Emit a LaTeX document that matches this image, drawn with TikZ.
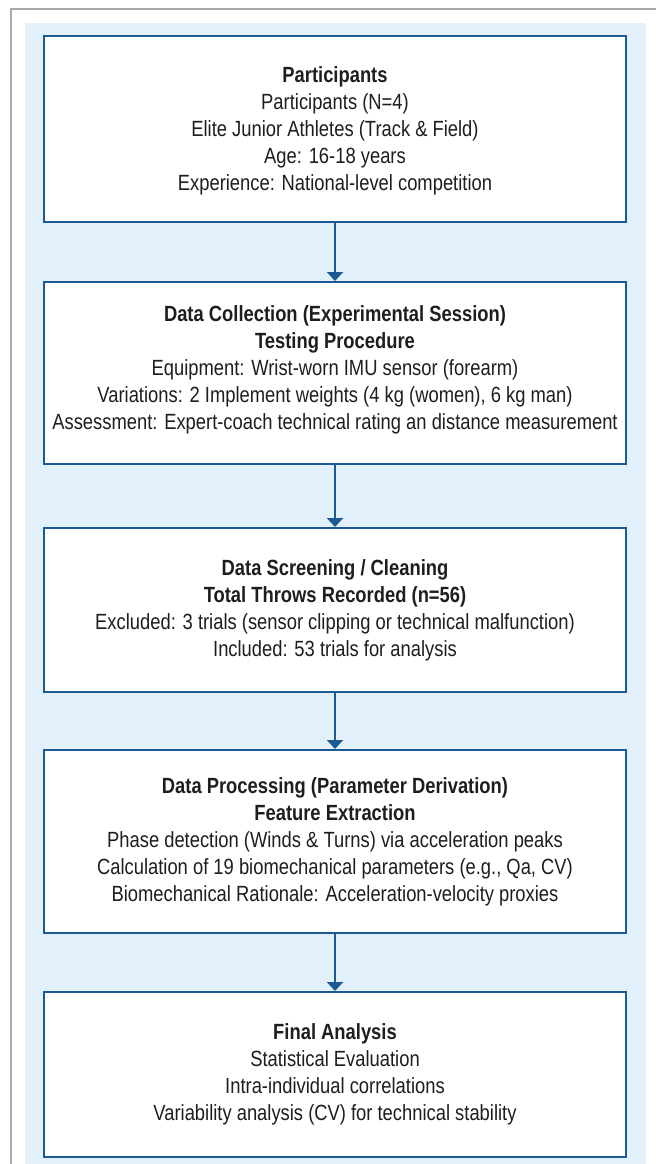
\documentclass[tikz,border=0pt]{standalone}
\usepackage{fontspec}
\setmainfont[FakeStretch=0.835]{Liberation Sans}
\usetikzlibrary{arrows.meta}
\definecolor{boxblue}{RGB}{28,90,150}
\definecolor{bgblue}{RGB}{225,240,250}
\definecolor{framegray}{RGB}{170,170,170}
\definecolor{txt}{RGB}{30,30,30}
\tikzset{
  stagebox/.style={draw=boxblue, line width=2pt, fill=white, minimum width=582pt,
    align=center, text=txt, font=\fontsize{22}{27}\selectfont, inner sep=0pt},
  flowarrow/.style={draw=boxblue, line width=2pt, -{Triangle[width=16pt,length=9pt]}}
}
\begin{document}
\begin{tikzpicture}[x=1pt,y=-1pt]
\useasboundingbox (0,0) rectangle (656,1164);
\fill[bgblue] (25,23) rectangle (646,1164);
\draw[framegray, line width=2pt] (11,1164) -- (11,9) -- (656,9);
\node[stagebox, minimum height=186pt] (b1) at (335,129) {};
\node[stagebox, minimum height=182pt] (b2) at (335,373) {};
\node[stagebox, minimum height=164pt] (b3) at (335,610) {};
\node[stagebox, minimum height=183pt] (b4) at (335,841.5) {};
\node[stagebox, minimum height=165pt] (b5) at (335,1074.5) {};
\node[stagebox, draw=none, fill=none, minimum width=0pt, anchor=center] (t1) at ([yshift=-2pt]b1.center) {\textbf{Participants}\\Participants (N=4)\\Elite Junior Athletes (Track \& Field)\\Age: 16-18 years\\Experience: National-level competition};
\node[stagebox, draw=none, fill=none, minimum width=0pt, anchor=center] (t2) at ([yshift=3pt]b2.center) {\textbf{Data Collection (Experimental Session)}\\\textbf{Testing Procedure}\\Equipment: Wrist-worn IMU sensor (forearm)\\Variations: 2 Implement weights (4 kg (women), 6 kg man)\\Assessment: Expert-coach technical rating an distance measurement};
\node[stagebox, draw=none, fill=none, minimum width=0pt, anchor=center] (t3) at (b3.center) {\textbf{Data Screening / Cleaning}\\\textbf{Total Throws Recorded (n=56)}\\Excluded: 3 trials (sensor clipping or technical malfunction)\\Included: 53 trials for analysis};
\node[stagebox, draw=none, fill=none, minimum width=0pt, anchor=center] (t4) at (b4.center) {\textbf{Data Processing (Parameter Derivation)}\\\textbf{Feature Extraction}\\Phase detection (Winds \& Turns) via acceleration peaks\\Calculation of 19 biomechanical parameters (e.g., Qa, CV)\\Biomechanical Rationale: Acceleration-velocity proxies};
\node[stagebox, draw=none, fill=none, minimum width=0pt, anchor=center] (t5) at (b5.center) {\textbf{Final Analysis}\\Statistical Evaluation\\Intra-individual correlations\\Variability analysis (CV) for technical stability};
\draw[flowarrow] (b1) -- (b2);
\draw[flowarrow] (b2) -- (b3);
\draw[flowarrow] (b3) -- (b4);
\draw[flowarrow] (b4) -- (b5);
\end{tikzpicture}
\end{document}
